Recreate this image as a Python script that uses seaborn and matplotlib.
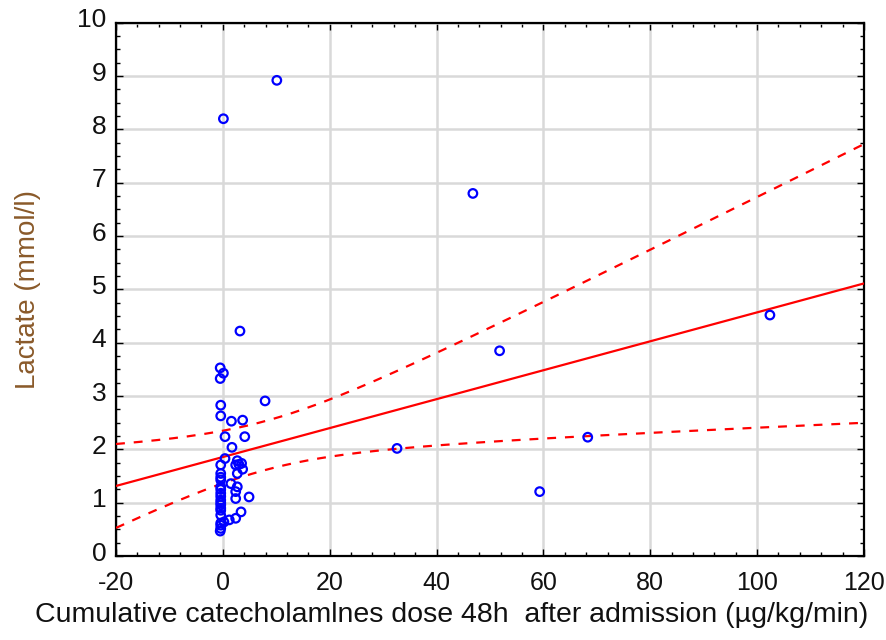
import numpy as np
import pandas as pd
import matplotlib
matplotlib.use("Agg")
import matplotlib.pyplot as plt
import matplotlib.transforms as mtransforms
import seaborn as sns
from matplotlib.ticker import MultipleLocator

# ---- data ----
dose = [0.1, 10.1, 46.8, 3.2, 51.8, 102.4, 7.9, 32.6, 68.3, 59.3,
        -0.5, 0.1, -0.5, -0.4, -0.4, 1.6, 3.7, 0.4, 4.1,
        1.7, 0.4, 2.7, 3.5, 2.4, -0.4, 3.7, -0.4, 2.7, -0.4, 1.5,
        2.7, -0.4, 2.4, -0.4, 4.9, 2.4, -0.4, -0.4, -0.4, 3.4,
        -0.4, 2.4, 1.2, 0.2, -0.4, -0.4, -0.5,
        -0.4, -0.4, -0.4, -0.4, -0.4, -0.4, 3.0]
lactate = [8.2, 8.92, 6.80, 4.22, 3.85, 4.52, 2.91, 2.02, 2.23, 1.21,
           3.53, 3.43, 3.33, 2.83, 2.63, 2.53, 2.55, 2.24, 2.24,
           2.04, 1.83, 1.79, 1.74, 1.71, 1.71, 1.63, 1.55, 1.55, 1.43, 1.36,
           1.30, 1.30, 1.21, 1.18, 1.11, 1.08, 1.05, 0.96, 0.86, 0.83,
           0.77, 0.71, 0.68, 0.64, 0.58, 0.52, 0.47,
           1.48, 1.25, 1.12, 1.00, 0.90, 0.62, 1.72]

x_ticks = [-20, 0, 20, 40, 60, 80, 100, 120]
y_ticks = list(range(0, 11))
x_label = "Cumulative catecholamlnes dose 48h  after admission (\u00b5g/kg/min)"
y_label = "Lactate (mmol/l)"

df = pd.DataFrame({"dose": dose, "lactate": lactate})

# ---- regression and 95% confidence band from the data ----
x = np.asarray(dose, float)
y = np.asarray(lactate, float)
n = len(x)
slope, intercept = np.polyfit(x, y, 1)
resid = y - (intercept + slope * x)
s = np.sqrt(np.sum(resid ** 2) / (n - 2))
xm = x.mean()
sxx = np.sum((x - xm) ** 2)
tval = 2.007  # t(0.975, ~52 df)
xs = np.linspace(x_ticks[0], x_ticks[-1], 200)
fit = intercept + slope * xs
half = tval * s * np.sqrt(1.0 / n + (xs - xm) ** 2 / sxx)
band = pd.DataFrame({"x": xs, "fit": fit, "lo": fit - half, "hi": fit + half})

sns.set_theme(style="white")
plt.rcParams["font.family"] = ["Liberation Sans", "DejaVu Sans"]
plt.rcParams["axes.unicode_minus"] = False

fig = plt.figure(figsize=(8.87, 6.40), dpi=100)
ax = fig.add_axes([0.1308, 0.131, 0.974 - 0.1308, 0.9645 - 0.131])

ax.grid(True, color="#d9d9d9", linewidth=1.8, zorder=0)
ax.set_axisbelow(True)

sns.lineplot(data=band, x="x", y="fit", ax=ax, color="#ff0000", linewidth=1.6, zorder=3)
sns.lineplot(data=band, x="x", y="hi", ax=ax, color="#ff0000", linewidth=1.6,
             linestyle=(0, (4, 4)), zorder=3)
sns.lineplot(data=band, x="x", y="lo", ax=ax, color="#ff0000", linewidth=1.6,
             linestyle=(0, (4, 4)), zorder=3)
sns.scatterplot(data=df, x="dose", y="lactate", ax=ax, marker="o", s=38,
                facecolor="none", edgecolor="#0000ff", linewidth=1.6, zorder=4)

ax.set_xlim(x_ticks[0], x_ticks[-1])
ax.set_ylim(y_ticks[0], y_ticks[-1])
ax.set_xticks(x_ticks)
ax.set_yticks(y_ticks)
ax.xaxis.set_minor_locator(MultipleLocator(4))
ax.yaxis.set_minor_locator(MultipleLocator(0.25))
ax.tick_params(which="both", direction="in", top=True, right=True,
               bottom=True, left=True, color="black")
ax.tick_params(which="major", length=5, width=1.0)
ax.tick_params(which="minor", length=3, width=1.0)
ax.tick_params(axis="y", labelsize=19, pad=7, labelcolor="#111111")
ax.tick_params(axis="x", labelsize=18, pad=11, labelcolor="#111111")
for sp in ax.spines.values():
    sp.set_color("black")
    sp.set_linewidth(1.6)

# y tick labels sit slightly above their ticks in the reference
offset = mtransforms.ScaledTranslation(0, 5 / 100, fig.dpi_scale_trans)
for lab in ax.get_yticklabels():
    lab.set_transform(lab.get_transform() + offset)

ax.set_xlabel(x_label, fontsize=20.5, color="#111111", labelpad=5)
ax.xaxis.label.set_x(0.449)
ax.set_ylabel(y_label, fontsize=20, color="#8a5a2a", labelpad=26)

fig.savefig("out.png", dpi=100)
